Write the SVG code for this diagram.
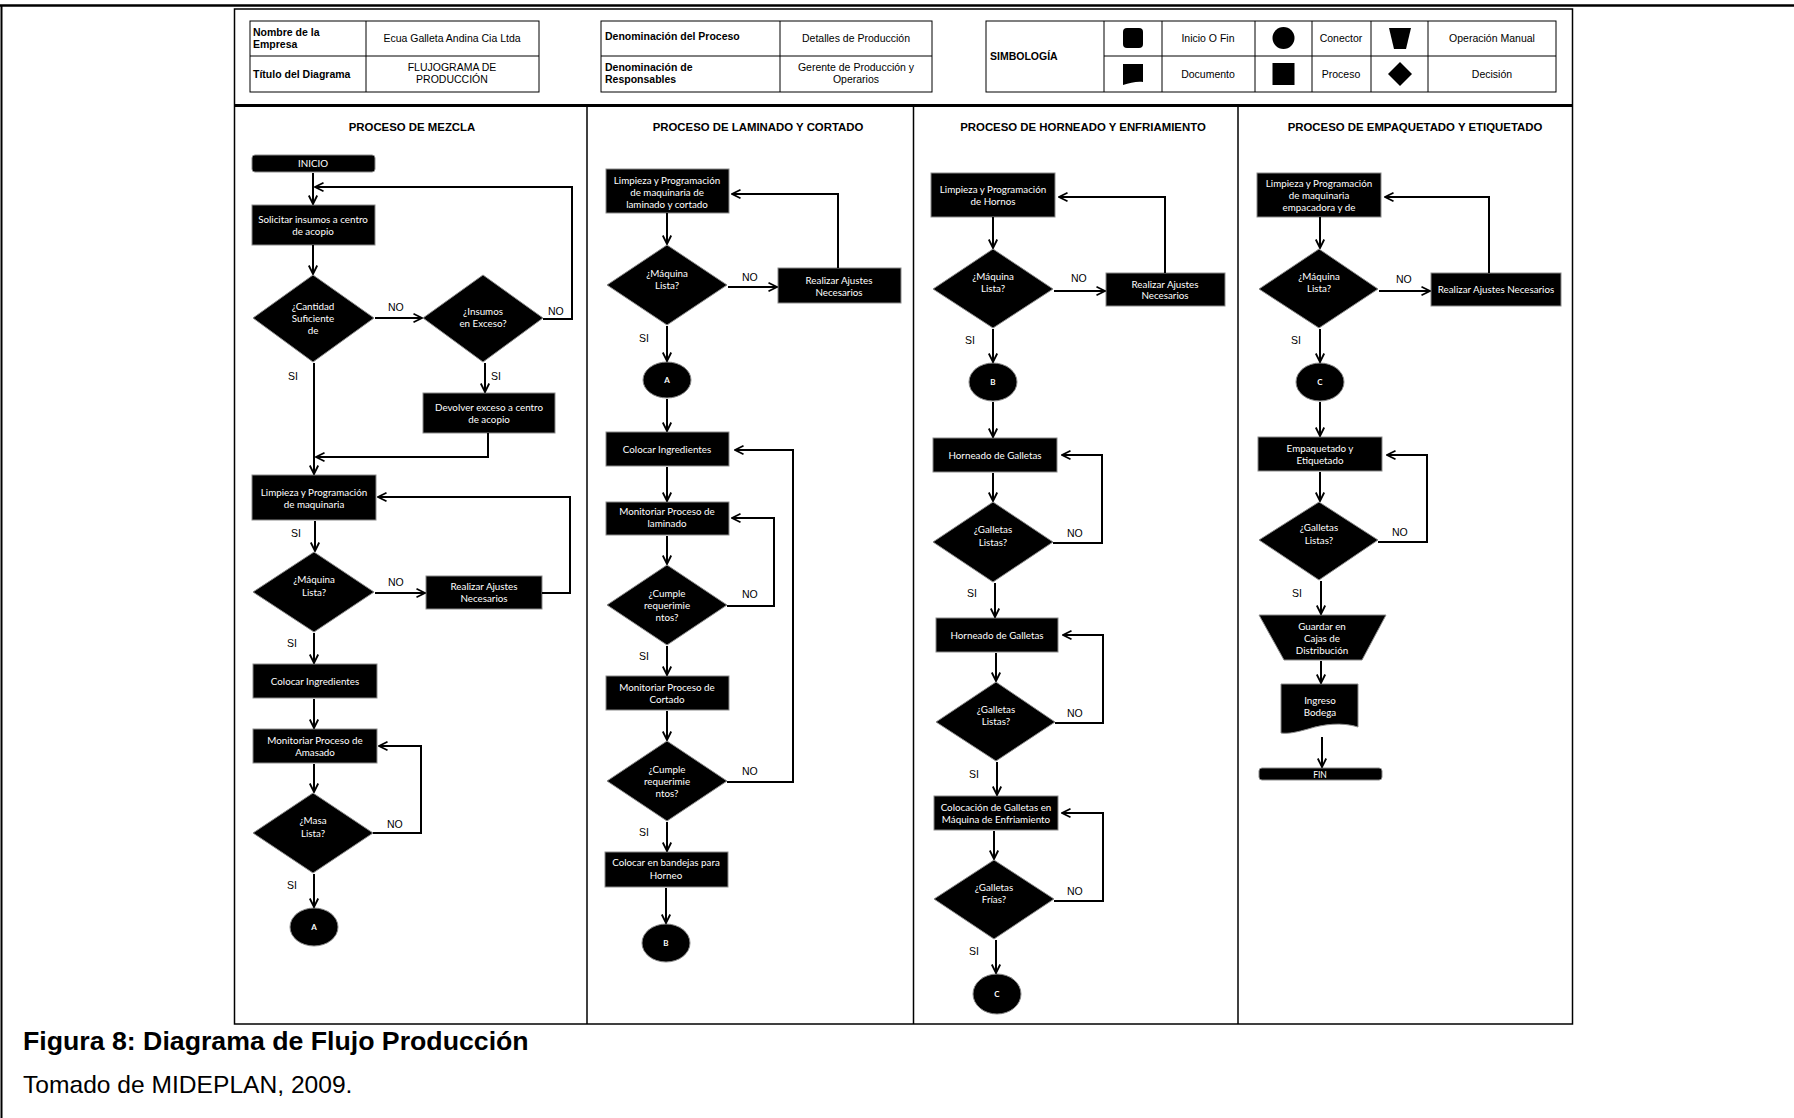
<svg xmlns="http://www.w3.org/2000/svg" width="1794" height="1118" viewBox="0 0 1794 1118">
<defs>
  <style>
    .bx{fill:#000;stroke:#8a8a8a;stroke-width:1}
    .t{font-family:Lato,'Liberation Sans',sans-serif;font-size:9.8px;fill:#fff;text-anchor:middle}
    .tc{font-family:Lato,'Liberation Sans',sans-serif;font-size:8px;font-weight:bold;fill:#fff;text-anchor:middle}
    .lb{font-family:'Liberation Sans',Arial,sans-serif;font-size:10.5px;fill:#000}
    .ln{fill:none;stroke:#000;stroke-width:2}
    .hd{font-family:'Liberation Sans',Arial,sans-serif;font-weight:bold;font-size:11.4px;text-anchor:middle;fill:#000}
    .cell{fill:none;stroke:#000;stroke-width:1}
    .ht{font-family:'Liberation Sans',Arial,sans-serif;font-size:10.5px;fill:#000}
    .hb{font-family:'Liberation Sans',Arial,sans-serif;font-size:10.5px;font-weight:bold;fill:#000}
    .mid{text-anchor:middle}
    .cap{font-family:'Liberation Sans',Arial,sans-serif;fill:#000}
  </style>
  <marker id="ah" viewBox="0 0 10 10" refX="9" refY="5" markerWidth="10" markerHeight="10" markerUnits="userSpaceOnUse" orient="auto">
    <path d="M0.5,0.8 L9,5 L0.5,9.2" fill="none" stroke="#000" stroke-width="1.8"/>
  </marker>
</defs>

<rect width="1794" height="1118" fill="#fff"/>

<!-- page border -->
<line x1="0" y1="5.5" x2="1794" y2="5.5" stroke="#000" stroke-width="2.5"/>
<line x1="1.5" y1="5" x2="1.5" y2="1118" stroke="#000" stroke-width="2"/>

<!-- chart frame, header band and lanes -->
<g id="frame">
  <rect x="234.5" y="9" width="1338" height="1015" fill="none" stroke="#000" stroke-width="1.5"/>
  <line x1="234.5" y1="105.5" x2="1572.5" y2="105.5" stroke="#000" stroke-width="3"/>
  <line x1="587" y1="105" x2="587" y2="1024" stroke="#000" stroke-width="1.5"/>
  <line x1="913.5" y1="105" x2="913.5" y2="1024" stroke="#000" stroke-width="1.5"/>
  <line x1="1238" y1="105" x2="1238" y2="1024" stroke="#000" stroke-width="1.5"/>
  <text class="hd" x="412" y="131">PROCESO DE MEZCLA</text>
  <text class="hd" x="758" y="131">PROCESO DE LAMINADO Y CORTADO</text>
  <text class="hd" x="1083" y="131">PROCESO DE HORNEADO Y ENFRIAMIENTO</text>
  <text class="hd" x="1415" y="131">PROCESO DE EMPAQUETADO Y ETIQUETADO</text>
</g>

<!-- header: company / title -->
<g id="hdr-empresa">
  <rect class="cell" x="250" y="21" width="289" height="71"/>
  <line class="cell" x1="250" y1="56" x2="539" y2="56"/>
  <line class="cell" x1="366" y1="21" x2="366" y2="92"/>
  <text class="hb" x="253" y="36">Nombre de la</text>
  <text class="hb" x="253" y="48">Empresa</text>
  <text class="ht mid" x="452" y="42">Ecua Galleta Andina Cia Ltda</text>
  <text class="hb" x="253" y="78">Título del Diagrama</text>
  <text class="ht mid" x="452" y="71">FLUJOGRAMA DE</text>
  <text class="ht mid" x="452" y="83">PRODUCCIÓN</text>
</g>

<!-- header: process / responsible -->
<g id="hdr-proceso">
  <rect class="cell" x="601" y="21" width="331" height="71"/>
  <line class="cell" x1="601" y1="56" x2="932" y2="56"/>
  <line class="cell" x1="780" y1="21" x2="780" y2="92"/>
  <text class="hb" x="605" y="40">Denominación del Proceso</text>
  <text class="ht mid" x="856" y="42">Detalles de Producción</text>
  <text class="hb" x="605" y="71">Denominación de</text>
  <text class="hb" x="605" y="83">Responsables</text>
  <text class="ht mid" x="856" y="71">Gerente de Producción y</text>
  <text class="ht mid" x="856" y="83">Operarios</text>
</g>

<!-- header: symbol legend -->
<g id="hdr-simbologia">
  <rect class="cell" x="986" y="21" width="570" height="71"/>
  <line class="cell" x1="1104" y1="56" x2="1556" y2="56"/>
  <line class="cell" x1="1104" y1="21" x2="1104" y2="92"/>
  <line class="cell" x1="1162" y1="21" x2="1162" y2="92"/>
  <line class="cell" x1="1255" y1="21" x2="1255" y2="92"/>
  <line class="cell" x1="1312" y1="21" x2="1312" y2="92"/>
  <line class="cell" x1="1371" y1="21" x2="1371" y2="92"/>
  <line class="cell" x1="1428" y1="21" x2="1428" y2="92"/>
  <text class="hb" x="990" y="60">SIMBOLOGÍA</text>
  <rect x="1123" y="28" width="20" height="20" rx="4" fill="#000"/>
  <circle cx="1283.5" cy="38" r="11" fill="#000"/>
  <polygon points="1389,28 1411,28 1406,49 1394,49" fill="#000"/>
  <path d="M1123,64 H1143 V82 C1137,81 1130,83 1123,85 Z" fill="#000"/>
  <rect x="1272.5" y="63" width="22" height="22" fill="#000"/>
  <polygon points="1400,62 1412,74 1400,86 1388,74" fill="#000"/>
  <text class="ht mid" x="1208" y="42">Inicio O  Fin</text>
  <text class="ht mid" x="1341" y="42">Conector</text>
  <text class="ht mid" x="1492" y="42">Operación Manual</text>
  <text class="ht mid" x="1208" y="78">Documento</text>
  <text class="ht mid" x="1341" y="78">Proceso</text>
  <text class="ht mid" x="1492" y="78">Decisión</text>
</g>

<!-- ===== lane 1: mezcla ===== -->
<g id="m-inicio"><rect class="bx" x="252" y="155" width="123" height="17" rx="3"/><text class="t" x="313" y="167">INICIO</text></g>
<g id="m-solicitar"><rect class="bx" x="252" y="205" width="123" height="40"/><text class="t" x="313" y="223">Solicitar insumos a centro</text><text class="t" x="313" y="235">de acopio</text></g>
<g id="m-cantidad"><polygon class="bx" points="313,275 374,318 313,362 253,318"/><text class="t" x="313" y="310">¿Cantidad</text><text class="t" x="313" y="322">Suficiente</text><text class="t" x="313" y="334">de</text></g>
<g id="m-exceso"><polygon class="bx" points="483,275 543,318 483,362 423,318"/><text class="t" x="483" y="315">¿Insumos</text><text class="t" x="483" y="327">en Exceso?</text></g>
<g id="m-devolver"><rect class="bx" x="423" y="393" width="132" height="40"/><text class="t" x="489" y="411">Devolver exceso a centro</text><text class="t" x="489" y="423">de acopio</text></g>
<g id="m-limpieza"><rect class="bx" x="252" y="475" width="124" height="45"/><text class="t" x="314" y="496">Limpieza  y Programación</text><text class="t" x="314" y="508">de maquinaria</text></g>
<g id="m-maquina"><polygon class="bx" points="314,552 374,592 314,632 253,592"/><text class="t" x="314" y="583">¿Máquina</text><text class="t" x="314" y="596">Lista?</text></g>
<g id="m-ajustes"><rect class="bx" x="426" y="576" width="116" height="33"/><text class="t" x="484" y="590">Realizar Ajustes</text><text class="t" x="484" y="602">Necesarios</text></g>
<g id="m-colocar"><rect class="bx" x="253" y="664" width="124" height="34"/><text class="t" x="315" y="685">Colocar Ingredientes</text></g>
<g id="m-monitoriar"><rect class="bx" x="253" y="729" width="124" height="34"/><text class="t" x="315" y="744">Monitoriar Proceso de</text><text class="t" x="315" y="756">Amasado</text></g>
<g id="m-masa"><polygon class="bx" points="313,793 373,833 313,873 253,833"/><text class="t" x="313" y="824">¿Masa</text><text class="t" x="313" y="837">Lista?</text></g>
<g id="m-conA"><ellipse class="bx" cx="314" cy="927" rx="24" ry="19"/><text class="tc" x="314" y="930">A</text></g>

<!-- ===== lane 2: laminado y cortado ===== -->
<g id="l-limpieza"><rect class="bx" x="606" y="169" width="123" height="44"/><text class="t" x="667" y="184">Limpieza  y Programación</text><text class="t" x="667" y="196">de maquinaria de</text><text class="t" x="667" y="208">laminado y cortado</text></g>
<g id="l-maquina"><polygon class="bx" points="667,245 727,285 667,325 607,285"/><text class="t" x="667" y="277">¿Máquina</text><text class="t" x="667" y="289">Lista?</text></g>
<g id="l-ajustes"><rect class="bx" x="778" y="268" width="123" height="35"/><text class="t" x="839" y="284">Realizar Ajustes</text><text class="t" x="839" y="296">Necesarios</text></g>
<g id="l-conA"><ellipse class="bx" cx="667" cy="380" rx="24" ry="18"/><text class="tc" x="667" y="383">A</text></g>
<g id="l-colocar"><rect class="bx" x="606" y="432" width="123" height="34"/><text class="t" x="667" y="453">Colocar Ingredientes</text></g>
<g id="l-mon-lam"><rect class="bx" x="606" y="502" width="123" height="33"/><text class="t" x="667" y="515">Monitoriar Proceso de</text><text class="t" x="667" y="527">laminado</text></g>
<g id="l-cumple1"><polygon class="bx" points="667,565 727,605 667,645 607,605"/><text class="t" x="667" y="597">¿Cumple</text><text class="t" x="667" y="609">requerimie</text><text class="t" x="667" y="621">ntos?</text></g>
<g id="l-mon-cor"><rect class="bx" x="606" y="676" width="123" height="34"/><text class="t" x="667" y="691">Monitoriar Proceso de</text><text class="t" x="667" y="703">Cortado</text></g>
<g id="l-cumple2"><polygon class="bx" points="667,741 727,781 667,821 607,781"/><text class="t" x="667" y="773">¿Cumple</text><text class="t" x="667" y="785">requerimie</text><text class="t" x="667" y="797">ntos?</text></g>
<g id="l-bandejas"><rect class="bx" x="605" y="852" width="123" height="35"/><text class="t" x="666" y="866">Colocar en bandejas para</text><text class="t" x="666" y="879">Horneo</text></g>
<g id="l-conB"><ellipse class="bx" cx="666" cy="943" rx="24" ry="19"/><text class="tc" x="666" y="946">B</text></g>

<!-- ===== lane 3: horneado y enfriamiento ===== -->
<g id="h-limpieza"><rect class="bx" x="931" y="173" width="124" height="44"/><text class="t" x="993" y="193">Limpieza  y Programación</text><text class="t" x="993" y="205">de Hornos</text></g>
<g id="h-maquina"><polygon class="bx" points="993,249 1053,289 993,328 933,289"/><text class="t" x="993" y="280">¿Máquina</text><text class="t" x="993" y="292">Lista?</text></g>
<g id="h-ajustes"><rect class="bx" x="1106" y="273" width="119" height="33"/><text class="t" x="1165" y="288">Realizar Ajustes</text><text class="t" x="1165" y="299">Necesarios</text></g>
<g id="h-conB"><ellipse class="bx" cx="993" cy="382" rx="24" ry="19"/><text class="tc" x="993" y="385">B</text></g>
<g id="h-horneado1"><rect class="bx" x="933" y="438" width="124" height="34"/><text class="t" x="995" y="459">Horneado de Galletas</text></g>
<g id="h-listas1"><polygon class="bx" points="993,502 1053,542 993,582 933,542"/><text class="t" x="993" y="533">¿Galletas</text><text class="t" x="993" y="546">Listas?</text></g>
<g id="h-horneado2"><rect class="bx" x="936" y="618" width="122" height="34"/><text class="t" x="997" y="639">Horneado de Galletas</text></g>
<g id="h-listas2"><polygon class="bx" points="996,682 1055,722 996,761 936,722"/><text class="t" x="996" y="713">¿Galletas</text><text class="t" x="996" y="725">Listas?</text></g>
<g id="h-colocacion"><rect class="bx" x="934" y="796" width="124" height="34"/><text class="t" x="996" y="811">Colocación de Galletas en</text><text class="t" x="996" y="823">Máquina de Enfriamiento</text></g>
<g id="h-frias"><polygon class="bx" points="994,860 1054,899 994,939 934,899"/><text class="t" x="994" y="891">¿Galletas</text><text class="t" x="994" y="903">Frías?</text></g>
<g id="h-conC"><ellipse class="bx" cx="997" cy="994" rx="24" ry="20"/><text class="tc" x="997" y="997">C</text></g>

<!-- ===== lane 4: empaquetado y etiquetado ===== -->
<g id="e-limpieza"><rect class="bx" x="1257" y="173" width="124" height="44"/><text class="t" x="1319" y="187">Limpieza  y Programación</text><text class="t" x="1319" y="199">de maquinaria</text><text class="t" x="1319" y="211">empacadora y de</text></g>
<g id="e-maquina"><polygon class="bx" points="1319,249 1378,289 1319,328 1259,289"/><text class="t" x="1319" y="280">¿Máquina</text><text class="t" x="1319" y="292">Lista?</text></g>
<g id="e-ajustes"><rect class="bx" x="1431" y="273" width="130" height="33"/><text class="t" x="1496" y="293">Realizar Ajustes Necesarios</text></g>
<g id="e-conC"><ellipse class="bx" cx="1320" cy="382" rx="24" ry="19"/><text class="tc" x="1320" y="385">C</text></g>
<g id="e-empaquetado"><rect class="bx" x="1258" y="437" width="124" height="34"/><text class="t" x="1320" y="452">Empaquetado y</text><text class="t" x="1320" y="464">Etiquetado</text></g>
<g id="e-listas"><polygon class="bx" points="1319,502 1378,540 1319,580 1259,540"/><text class="t" x="1319" y="531">¿Galletas</text><text class="t" x="1319" y="544">Listas?</text></g>
<g id="e-guardar"><polygon class="bx" points="1259,615 1386,615 1362,660 1284,660"/><text class="t" x="1322" y="630">Guardar en</text><text class="t" x="1322" y="642">Cajas de</text><text class="t" x="1322" y="654">Distribución</text></g>
<g id="e-bodega"><path class="bx" d="M1281,684 H1358 V727 C1342,722 1324,724 1308,729 C1297,732 1289,734 1281,733 Z"/><text class="t" x="1320" y="704">Ingreso</text><text class="t" x="1320" y="716">Bodega</text></g>
<g id="e-fin"><rect class="bx" x="1259" y="768" width="123" height="12" rx="3"/><text class="t" x="1320" y="777.5" style="font-size:8.5px">FIN</text></g>

<!-- connectors -->
<g id="connectors">
  <!-- mezcla -->
  <path class="ln" d="M313,173 V204" marker-end="url(#ah)"/>
  <path class="ln" d="M313,245 V274" marker-end="url(#ah)"/>
  <path class="ln" d="M375,318 H422" marker-end="url(#ah)"/>
  <path class="ln" d="M543,319 H572 V187 H315" marker-end="url(#ah)"/>
  <path class="ln" d="M485,363 V392" marker-end="url(#ah)"/>
  <path class="ln" d="M488,433 V457 H316" marker-end="url(#ah)"/>
  <path class="ln" d="M314,363 V474" marker-end="url(#ah)"/>
  <path class="ln" d="M315,521 V551" marker-end="url(#ah)"/>
  <path class="ln" d="M375,593 H425" marker-end="url(#ah)"/>
  <path class="ln" d="M542,593 H570 V497 H378" marker-end="url(#ah)"/>
  <path class="ln" d="M314,633 V663" marker-end="url(#ah)"/>
  <path class="ln" d="M314,699 V728" marker-end="url(#ah)"/>
  <path class="ln" d="M314,764 V792" marker-end="url(#ah)"/>
  <path class="ln" d="M373,833 H421 V746 H379" marker-end="url(#ah)"/>
  <path class="ln" d="M314,874 V907" marker-end="url(#ah)"/>
  <!-- laminado y cortado -->
  <path class="ln" d="M667,213 V244" marker-end="url(#ah)"/>
  <path class="ln" d="M728,287 H777" marker-end="url(#ah)"/>
  <path class="ln" d="M838,268 V194 H732" marker-end="url(#ah)"/>
  <path class="ln" d="M667,326 V361" marker-end="url(#ah)"/>
  <path class="ln" d="M667,399 V431" marker-end="url(#ah)"/>
  <path class="ln" d="M667,467 V501" marker-end="url(#ah)"/>
  <path class="ln" d="M667,536 V564" marker-end="url(#ah)"/>
  <path class="ln" d="M727,606 H774 V518 H732" marker-end="url(#ah)"/>
  <path class="ln" d="M667,646 V675" marker-end="url(#ah)"/>
  <path class="ln" d="M667,711 V740" marker-end="url(#ah)"/>
  <path class="ln" d="M727,782 H793 V450 H735" marker-end="url(#ah)"/>
  <path class="ln" d="M667,822 V851" marker-end="url(#ah)"/>
  <path class="ln" d="M666,888 V923" marker-end="url(#ah)"/>
  <!-- horneado y enfriamiento -->
  <path class="ln" d="M993,217 V248" marker-end="url(#ah)"/>
  <path class="ln" d="M1054,291 H1105" marker-end="url(#ah)"/>
  <path class="ln" d="M1165,273 V197 H1059" marker-end="url(#ah)"/>
  <path class="ln" d="M993,329 V362" marker-end="url(#ah)"/>
  <path class="ln" d="M993,402 V437" marker-end="url(#ah)"/>
  <path class="ln" d="M993,473 V501" marker-end="url(#ah)"/>
  <path class="ln" d="M1053,543 H1102 V455 H1062" marker-end="url(#ah)"/>
  <path class="ln" d="M995,583 V617" marker-end="url(#ah)"/>
  <path class="ln" d="M996,653 V681" marker-end="url(#ah)"/>
  <path class="ln" d="M1055,723 H1103 V635 H1063" marker-end="url(#ah)"/>
  <path class="ln" d="M997,762 V795" marker-end="url(#ah)"/>
  <path class="ln" d="M994,831 V859" marker-end="url(#ah)"/>
  <path class="ln" d="M1054,901 H1103 V813 H1062" marker-end="url(#ah)"/>
  <path class="ln" d="M996,940 V973" marker-end="url(#ah)"/>
  <!-- empaquetado y etiquetado -->
  <path class="ln" d="M1320,217 V248" marker-end="url(#ah)"/>
  <path class="ln" d="M1379,291 H1430" marker-end="url(#ah)"/>
  <path class="ln" d="M1489,273 V197 H1385" marker-end="url(#ah)"/>
  <path class="ln" d="M1320,329 V362" marker-end="url(#ah)"/>
  <path class="ln" d="M1320,402 V436" marker-end="url(#ah)"/>
  <path class="ln" d="M1320,472 V501" marker-end="url(#ah)"/>
  <path class="ln" d="M1378,542 H1427 V455 H1387" marker-end="url(#ah)"/>
  <path class="ln" d="M1321,581 V614" marker-end="url(#ah)"/>
  <path class="ln" d="M1321,661 V683" marker-end="url(#ah)"/>
  <path class="ln" d="M1322,737 V767" marker-end="url(#ah)"/>

  <!-- branch labels -->
  <text class="lb" x="388" y="311">NO</text>
  <text class="lb" x="548" y="315">NO</text>
  <text class="lb" x="491" y="380">SI</text>
  <text class="lb" x="288" y="380">SI</text>
  <text class="lb" x="291" y="537">SI</text>
  <text class="lb" x="388" y="586">NO</text>
  <text class="lb" x="287" y="647">SI</text>
  <text class="lb" x="387" y="828">NO</text>
  <text class="lb" x="287" y="889">SI</text>

  <text class="lb" x="742" y="281">NO</text>
  <text class="lb" x="639" y="342">SI</text>
  <text class="lb" x="742" y="598">NO</text>
  <text class="lb" x="639" y="660">SI</text>
  <text class="lb" x="742" y="775">NO</text>
  <text class="lb" x="639" y="836">SI</text>

  <text class="lb" x="1071" y="282">NO</text>
  <text class="lb" x="965" y="344">SI</text>
  <text class="lb" x="1067" y="537">NO</text>
  <text class="lb" x="967" y="597">SI</text>
  <text class="lb" x="1067" y="717">NO</text>
  <text class="lb" x="969" y="778">SI</text>
  <text class="lb" x="1067" y="895">NO</text>
  <text class="lb" x="969" y="955">SI</text>

  <text class="lb" x="1396" y="283">NO</text>
  <text class="lb" x="1291" y="344">SI</text>
  <text class="lb" x="1392" y="536">NO</text>
  <text class="lb" x="1292" y="597">SI</text>
</g>

<!-- caption -->
<text class="cap" x="23" y="1050" font-size="26.7" font-weight="bold">Figura 8: Diagrama de Flujo Producción</text>
<text class="cap" x="23" y="1093" font-size="24.6">Tomado de MIDEPLAN, 2009.</text>
</svg>
